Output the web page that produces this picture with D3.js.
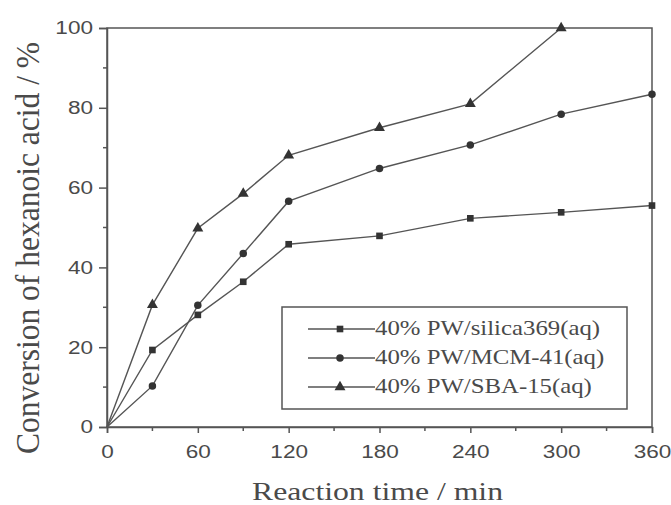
<!DOCTYPE html>
<html><head><meta charset="utf-8">
<script src="https://cdn.jsdelivr.net/npm/d3@7"></script>
<style>body{margin:0;background:#fff}svg{display:block}</style>
</head><body>
<svg id="c" width="671" height="505"></svg>
<script>
const times = [0, 30, 60, 90, 120, 180, 240, 300, 360];
const silica369 = [0, 19.3, 28.1, 36.4, 45.8, 47.9, 52.3, 53.8, 55.5];
const mcm41 = [0, 10.3, 30.5, 43.5, 56.6, 64.8, 70.7, 78.4, 83.4];
const sba15Times = [0, 30, 60, 90, 120, 180, 240, 300];
const sba15 = [0, 30.6, 49.8, 58.5, 68.1, 75.0, 81.0, 100];
const seriesNames = ["40% PW/silica369(aq)", "40% PW/MCM-41(aq)", "40% PW/SBA-15(aq)"];
const xTicks = [0, 60, 120, 180, 240, 300, 360];
const yTicks = [0, 20, 40, 60, 80, 100];

const svg = d3.select("#c");
const L = 107, R = 652, T = 28, B = 427;
const x = d3.scaleLinear().domain([0, 360]).range([L, R]);
const y = d3.scaleLinear().domain([0, 100]).range([B, T]);
const ink = "#555";
const txt = "#4a4a4a";
const SX = 1.22;
const serif = "Liberation Serif, Times New Roman, serif";
const sans = "Liberation Sans, Arial, sans-serif";

const series = [
  {name: seriesNames[0], xs: times, ys: silica369, shape: "square", len: 227},
  {name: seriesNames[1], xs: times, ys: mcm41, shape: "circle", len: 220},
  {name: seriesNames[2], xs: sba15Times, ys: sba15, shape: "triangle", len: 212}
];

const sym = {
  square: d3.symbol().type(d3.symbolSquare).size(44),
  circle: d3.symbol().type(d3.symbolCircle).size(44),
  triangle: d3.symbol().type(d3.symbolTriangle).size(52)
};

// frame
svg.append("rect").attr("x", L).attr("y", T).attr("width", R - L).attr("height", B - T)
  .attr("fill", "none").attr("stroke", ink).attr("stroke-width", 1.5);

// axes
const xAx = svg.append("g").attr("transform", `translate(0,${B})`)
  .call(d3.axisBottom(x).tickValues(xTicks).tickSize(6).tickPadding(12).tickFormat(d3.format("d")));
const yAx = svg.append("g").attr("transform", `translate(${L},0)`)
  .call(d3.axisLeft(y).tickValues(yTicks).tickSize(8).tickPadding(6).tickFormat(d3.format("d")));
[xAx, yAx].forEach(g => {
  g.select(".domain").attr("stroke", ink).attr("stroke-width", 1.5);
  g.selectAll(".tick line").attr("stroke", ink).attr("stroke-width", 1.5);
  g.selectAll(".tick text").attr("fill", txt).style("font-family", sans).style("font-size", "18.5px")
    .attr("transform", `scale(${SX},1)`);
});
yAx.selectAll(".tick text").attr("x", -14 / SX);
// minor ticks
svg.append("g").selectAll("line").data(d3.range(30, 360, 60)).join("line")
  .attr("x1", d => x(d)).attr("x2", d => x(d)).attr("y1", B).attr("y2", B + 4)
  .attr("stroke", ink).attr("stroke-width", 1.5);
svg.append("g").selectAll("line").data(d3.range(10, 100, 20)).join("line")
  .attr("x1", L - 4).attr("x2", L).attr("y1", d => y(d)).attr("y2", d => y(d))
  .attr("stroke", ink).attr("stroke-width", 1.5);

// series
const line = d3.line();
series.forEach(s => {
  const pts = s.xs.map((t, i) => [x(t), y(s.ys[i])]);
  svg.append("path").attr("d", line(pts)).attr("fill", "none").attr("stroke", ink).attr("stroke-width", 1.4);
  svg.append("g").selectAll("path").data(pts.slice(1)).join("path")
    .attr("d", sym[s.shape]).attr("transform", p => `translate(${p[0]},${p[1]})`)
    .attr("fill", "#333");
});

// legend
const lg = svg.append("g");
lg.append("rect").attr("x", 282).attr("y", 307).attr("width", 345).attr("height", 102)
  .attr("fill", "#fff").attr("stroke", ink).attr("stroke-width", 1.5);
series.forEach((s, i) => {
  const yy = 329 + i * 29;
  lg.append("line").attr("x1", 308).attr("x2", 375).attr("y1", yy).attr("y2", yy)
    .attr("stroke", ink).attr("stroke-width", 1.4);
  lg.append("path").attr("d", sym[s.shape]).attr("transform", `translate(340,${yy})`).attr("fill", "#333");
  lg.append("text").attr("transform", `translate(375,${yy + 6}) scale(1.24,1)`).text(s.name)
    .attr("fill", txt).style("font-family", serif).style("font-size", "20px");
});

// titles
svg.append("text").attr("transform", `translate(377.5,500)`).attr("text-anchor", "middle")
  .attr("textLength", 251).attr("lengthAdjust", "spacingAndGlyphs")
  .text("Reaction time / min").attr("fill", txt)
  .style("font-family", serif).style("font-size", "26px");
svg.append("text").attr("transform", `translate(39,248) scale(1.25,1) rotate(-90)`).attr("text-anchor", "middle")
  .attr("textLength", 412).attr("lengthAdjust", "spacingAndGlyphs")
  .text("Conversion of hexanoic acid / %").attr("fill", txt)
  .style("font-family", serif).style("font-size", "27px");
</script>
</body></html>
